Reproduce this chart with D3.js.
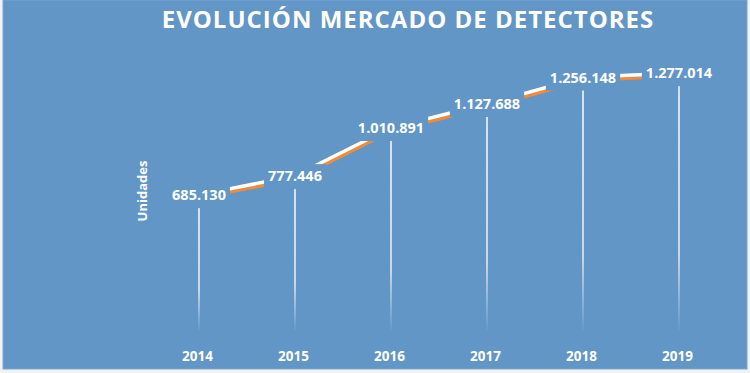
<!DOCTYPE html>
<html>
<head>
<meta charset="utf-8">
<script src="https://cdn.jsdelivr.net/npm/d3@7"></script>
<style>
  body { margin: 0; background: #f2f2f2; }
  #vis text { font-family: "Open Sans", sans-serif; font-weight: bold; fill: #fff; }
</style>
</head>
<body>
<div id="vis"></div>
<script>
const years = ["2014", "2015", "2016", "2017", "2018", "2019"];
const units = [685130, 777446, 1010891, 1127688, 1256148, 1277014];
const titleText = "EVOLUCIÓN MERCADO DE DETECTORES";
const yLabel = "Unidades";

const width = 750;
const height = 373;
const bg = "#6196c6";

const svg = d3.select("#vis").append("svg")
    .attr("width", width)
    .attr("height", height);

// fading drop lines
const defs = svg.append("defs");
const grad = defs.append("linearGradient")
    .attr("id", "fade")
    .attr("x1", 0).attr("y1", 0).attr("x2", 0).attr("y2", 1);
grad.append("stop").attr("offset", "0%").attr("stop-color", "#fff").attr("stop-opacity", 1);
grad.append("stop").attr("offset", "70%").attr("stop-color", "#fff").attr("stop-opacity", 0.85);
grad.append("stop").attr("offset", "100%").attr("stop-color", "#fff").attr("stop-opacity", 0.05);

svg.append("rect")
    .attr("x", 3).attr("y", 0)
    .attr("width", 744).attr("height", 369)
    .attr("fill", bg)
    .attr("stroke", "#7aa6d2")
    .attr("stroke-width", 1);

const x = d3.scalePoint()
    .domain(years)
    .range([199, 679]);

const y = d3.scaleLinear()
    .domain([0, d3.max(units)])
    .range([336, 73]);

const data = years.map((yr, i) => ({ year: yr, value: units[i] }));

// title
svg.append("text")
    .attr("x", 408)
    .attr("y", 28)
    .attr("text-anchor", "middle")
    .style("font-size", "24px")
    .style("letter-spacing", "1px")
    .text(titleText);

// y axis label
svg.append("text")
    .attr("transform", "translate(147,191) rotate(-90)")
    .attr("text-anchor", "middle")
    .style("font-size", "13px")
    .text(yLabel);

// x axis labels
const xAxis = d3.axisBottom(x).tickSize(0).tickPadding(0);
const gx = svg.append("g")
    .attr("transform", "translate(-2,351)")
    .call(xAxis);
gx.select(".domain").remove();
gx.selectAll("text")
    .style("font-size", "13.5px")
    .attr("dy", "0.71em");

// drop lines
svg.append("g")
    .selectAll("rect")
    .data(data)
    .join("rect")
    .attr("x", d => x(d.year) - 0.75)
    .attr("y", d => y(d.value))
    .attr("width", 1.5)
    .attr("height", d => 330 - y(d.value))
    .attr("fill", "url(#fade)");

// line with orange shadow
const line = d3.line()
    .x(d => x(d.year))
    .y(d => y(d.value));

svg.append("path")
    .datum(data)
    .attr("d", line)
    .attr("transform", "translate(1,3)")
    .attr("fill", "none")
    .attr("stroke", "#ef8b3a")
    .attr("stroke-width", 3.5);

svg.append("path")
    .datum(data)
    .attr("d", line)
    .attr("fill", "none")
    .attr("stroke", "#ffffff")
    .attr("stroke-width", 3.5);

// data labels with background
const fmt = v => d3.format(",")(v).replace(/,/g, ".");
const labels = svg.append("g")
    .selectAll("g")
    .data(data)
    .join("g")
    .attr("transform", d => `translate(${x(d.year)},${y(d.value)})`);

const lt = labels.append("text")
    .attr("text-anchor", "middle")
    .attr("dy", "0.36em")
    .style("font-size", "14.5px")
    .text(d => fmt(d.value));

lt.each(function () {
    const b = this.getBBox();
    d3.select(this.parentNode).insert("rect", "text")
        .attr("x", b.x - 4)
        .attr("y", b.y - 2)
        .attr("width", b.width + 8)
        .attr("height", b.height + 6)
        .attr("fill", bg);
});
</script>
</body>
</html>
